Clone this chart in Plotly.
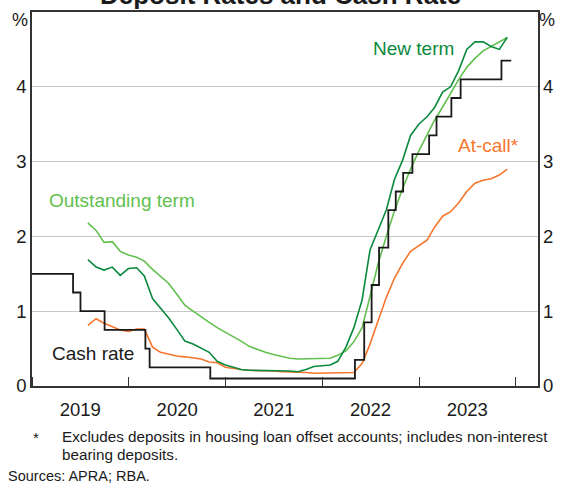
import pandas as pd
import plotly.graph_objects as go

# ---- data (monthly, end-of-month, Jul 2019 - Nov 2023) ----
month_start = "2019-07-31"
n_months = 53
outstanding_term = [2.18, 2.08, 1.92, 1.93, 1.80, 1.75, 1.72, 1.67, 1.56, 1.46,
                    1.37, 1.23, 1.08, 1.00, 0.92, 0.85, 0.78, 0.72, 0.66, 0.60,
                    0.53, 0.49, 0.45, 0.42, 0.39, 0.37, 0.36, 0.36, 0.36, 0.36,
                    0.37, 0.41, 0.47, 0.59, 0.78, 1.20, 1.64, 2.01, 2.34, 2.64,
                    2.90, 3.14, 3.35, 3.55, 3.73, 3.92, 4.10, 4.26, 4.38, 4.48,
                    4.54, 4.61, 4.66]
new_term = [1.69, 1.59, 1.55, 1.59, 1.48, 1.57, 1.58, 1.47, 1.17, 1.04,
            0.91, 0.76, 0.60, 0.56, 0.51, 0.45, 0.33, 0.28, 0.25, 0.22,
            0.21, 0.21, 0.21, 0.20, 0.20, 0.20, 0.19, 0.22, 0.26, 0.27,
            0.28, 0.33, 0.52, 0.78, 1.15, 1.82, 2.10, 2.36, 2.76, 3.02,
            3.35, 3.50, 3.60, 3.72, 3.93, 4.00, 4.22, 4.50, 4.60, 4.60,
            4.54, 4.50, 4.66]
at_call = [0.81, 0.90, 0.84, 0.79, 0.75, 0.73, 0.76, 0.76, 0.52, 0.45,
           0.42, 0.40, 0.39, 0.37, 0.36, 0.32, 0.31, 0.25, 0.23, 0.22,
           0.21, 0.21, 0.20, 0.20, 0.19, 0.19, 0.18, 0.18, 0.17, 0.17,
           0.17, 0.17, 0.17, 0.18, 0.30, 0.56, 0.88, 1.19, 1.44, 1.64,
           1.80, 1.88, 1.95, 2.12, 2.27, 2.33, 2.45, 2.60, 2.71, 2.75,
           2.77, 2.82, 2.90]

cash_dates = ["2019-01-01", "2019-06-05", "2019-07-03", "2019-10-02", "2020-03-04",
              "2020-03-20", "2020-11-04", "2022-05-04", "2022-06-08", "2022-07-06",
              "2022-08-03", "2022-09-07", "2022-10-05", "2022-11-02", "2022-12-07",
              "2023-02-08", "2023-03-08", "2023-05-03", "2023-06-07", "2023-11-08",
              "2023-12-15"]
cash_rate = [1.50, 1.25, 1.00, 0.75, 0.50, 0.25, 0.10, 0.35, 0.85, 1.35,
             1.85, 2.35, 2.60, 2.85, 3.10, 3.35, 3.60, 3.85, 4.10, 4.35, 4.35]

year_labels = ["2019", "2020", "2021", "2022", "2023"]
y_ticks = [0, 1, 2, 3, 4]

dates = pd.date_range(month_start, periods=n_months, freq="ME")

C_NEW = "#0b8a3e"
C_OUT = "#62c04f"
C_CALL = "#f7762d"
C_CASH = "#1a1a1a"

fig = go.Figure()
fig.add_trace(go.Scatter(x=dates, y=outstanding_term, mode="lines",
                         line=dict(color=C_OUT, width=1.6), showlegend=False))
fig.add_trace(go.Scatter(x=dates, y=at_call, mode="lines",
                         line=dict(color=C_CALL, width=1.6), showlegend=False))
fig.add_trace(go.Scatter(x=dates, y=new_term, mode="lines",
                         line=dict(color=C_NEW, width=1.6), showlegend=False))
fig.add_trace(go.Scatter(x=pd.to_datetime(cash_dates), y=cash_rate, mode="lines",
                         line=dict(color=C_CASH, width=1.8, shape="hv"), showlegend=False))
# invisible trace to activate right axis
fig.add_trace(go.Scatter(x=[dates[0]], y=[0], yaxis="y2", mode="lines",
                         line=dict(width=0), hoverinfo="skip", showlegend=False))

FONT = "Arial, Liberation Sans, sans-serif"
year_mid = [f"{y}-07-02" for y in year_labels]

fig.update_layout(
    width=563, height=484,
    margin=dict(l=32, r=19, t=10, b=98),
    paper_bgcolor="white", plot_bgcolor="white",
    font=dict(family=FONT, size=18, color="#1a1a1a"),
    xaxis=dict(range=["2019-01-01", "2024-03-25"], type="date",
               tickvals=year_mid, ticktext=year_labels, ticks="", ticklen=0,
               showgrid=False, showline=True, linecolor="#333", linewidth=1.5,
               mirror=True, zeroline=False, ticklabelstandoff=6,
               tickfont=dict(size=18.5),
               minor=dict(tick0="2019-01-01", dtick="M12", ticks="inside",
                          ticklen=9, tickcolor="#333", tickwidth=1, showgrid=False)),
    yaxis=dict(range=[0, 5], tickvals=y_ticks, ticks="", showgrid=True,
               gridcolor="#c8c8c8", gridwidth=1, showline=True, linecolor="#333",
               linewidth=1.5, mirror=True, zeroline=False, ticklabelstandoff=0,
               tickfont=dict(size=18.5)),
    yaxis2=dict(range=[0, 5], tickvals=y_ticks, ticks="", overlaying="y", side="right",
                showgrid=False, showline=False, zeroline=False, ticklabelstandoff=4,
                tickfont=dict(size=18.5)),
)

def px_x(p):
    return (p - 32) / 512.0

def px_y(p):
    return (386 - p) / 376.0

ann = [
    dict(text="<b>Deposit Rates and Cash Rate</b>", x=px_x(283.5), y=px_y(-7),
         xref="paper", yref="paper", showarrow=False, font=dict(size=26),
         xanchor="center", yanchor="middle"),
    dict(text="%", x=px_x(20), y=px_y(18), xref="paper", yref="paper",
         showarrow=False, font=dict(size=18), xanchor="center", yanchor="middle"),
    dict(text="%", x=px_x(553), y=px_y(18), xref="paper", yref="paper",
         showarrow=False, font=dict(size=18), xanchor="center", yanchor="middle"),
    dict(text="New term", x="2022-12-10", y=4.51, showarrow=False,
         font=dict(size=19, color=C_NEW), xanchor="center", yanchor="middle"),
    dict(text="At-call*", x="2023-09-20", y=3.22, showarrow=False,
         font=dict(size=19, color=C_CALL), xanchor="center", yanchor="middle"),
    dict(text="Outstanding term", x="2019-12-05", y=2.48, showarrow=False,
         font=dict(size=19, color=C_OUT), xanchor="center", yanchor="middle"),
    dict(text="Cash rate", x="2019-08-20", y=0.43, showarrow=False,
         font=dict(size=19, color=C_CASH), xanchor="center", yanchor="middle"),
    dict(text="*", x=px_x(31), y=px_y(438), xref="paper", yref="paper",
         showarrow=False, font=dict(size=15), xanchor="left", yanchor="middle"),
    dict(text="Excludes deposits in housing loan offset accounts; includes non-interest",
         x=px_x(60), y=px_y(437), xref="paper", yref="paper", showarrow=False,
         font=dict(size=15.25), xanchor="left", yanchor="middle"),
    dict(text="bearing deposits.", x=px_x(60), y=px_y(455), xref="paper", yref="paper",
         showarrow=False, font=dict(size=15.25), xanchor="left", yanchor="middle"),
    dict(text="Sources: APRA; RBA.", x=px_x(6), y=px_y(476), xref="paper", yref="paper",
         showarrow=False, font=dict(size=14.5), xanchor="left", yanchor="middle"),
]
fig.update_layout(annotations=ann)

fig.write_html("out.html")
